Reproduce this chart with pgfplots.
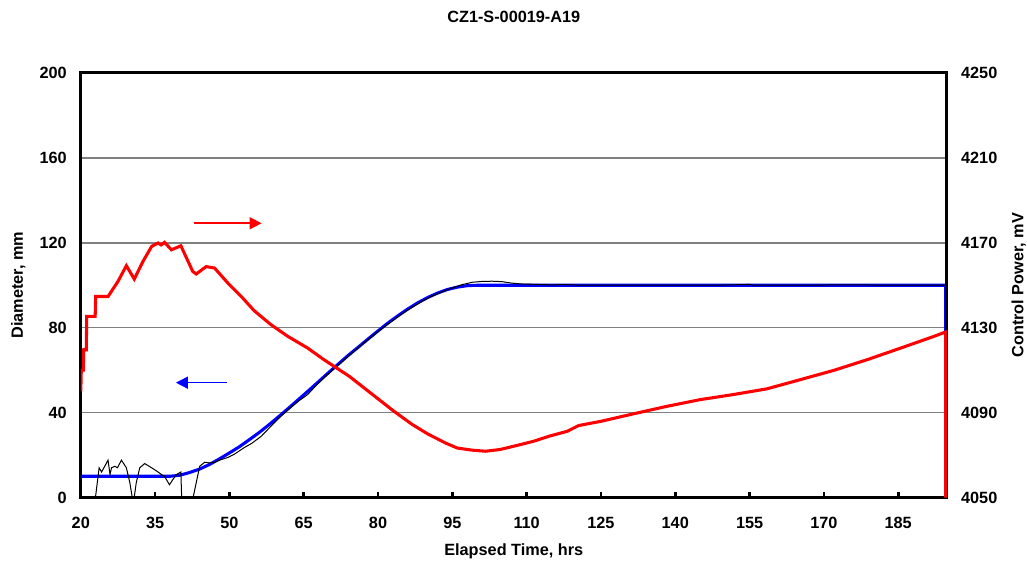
\documentclass[border=0pt]{standalone}
\usepackage{fontspec}
\setmainfont{Liberation Sans}
\usepackage{pgfplots}
\pgfplotsset{compat=1.18}
\usetikzlibrary{arrows.meta}

\definecolor{gridgray}{RGB}{128,128,128}

\pgfplotsset{
  common/.style={
    scale only axis, width=649.5pt, height=318.4pt,
    xmin=20, xmax=194.8,
    font=\fontsize{12.2}{14}\selectfont\bfseries,
    /pgf/number format/assume math mode=true,
    /pgf/number format/1000 sep={},
    axis line style={line width=2.25pt, black},
  },
}

\begin{document}
\begin{tikzpicture}
\useasboundingbox (-60.6pt,-49.9pt) rectangle (709.7pt,373.15pt);

% diameter: setpoint (blue) and measured (black)
\begin{axis}[
  common,
  ymin=0, ymax=200,
  xtick={20,35,...,185}, ytick={0,40,...,200},
  xtick pos=bottom, ytick pos=left,
  tick align=inside,
  major tick length=4pt,
  xtick style={line width=2pt, black},
  ytick style={draw=none},
  ymajorgrids, grid style={gridgray, line width=1.1pt},
  xticklabel style={anchor=center, yshift=-19pt},
  yticklabel style={anchor=east, xshift=-7pt},
  xlabel={Elapsed Time, hrs},
  ylabel={Diameter, mm},
  every axis x label/.style={at={(axis description cs:0.5,0)}, anchor=center, yshift=-40pt},
  every axis y label/.style={at={(axis description cs:0,0.5)}, xshift=-47pt, rotate=90, anchor=center},
  title={CZ1-S-00019-A19},
  every axis title/.style={at={(axis description cs:0.5,1)}, anchor=center, yshift=42pt},
]
\addplot[blue, line width=2.3pt] coordinates {
  (20,10) (38,10) (40,10.5) (42,11.8) (44,13.4) (46,15.6) (48,18.2) (50,21)
  (52,23.9) (54,27.2) (56,30.6) (58,34.3) (60,38.2) (62,42.2) (64,46.3)
  (66,50.4) (68,54.6) (70,58.8) (72,62.9) (74,67) (76,70.8) (78,74.7)
  (80,78.5) (82,82.2) (84,85.6) (86,88.8) (88,91.7) (90,94.2) (92,96.3)
  (94,98) (96,99.1) (98,99.8) (100,100) (194.6,100) (194.6,0)
};
\addplot[black, line width=0.75pt] coordinates {
  (22.8,-3) (23.7,14) (24.2,12) (25.5,17.6) (25.9,10.8) (26.2,14) (26.9,14.7)
  (27.4,14) (28.2,17.6) (29.2,14) (29.9,7) (30.6,-3) (31.2,7) (31.9,14)
  (32.9,16) (34.3,14) (35.3,12.5) (36.3,10.8) (36.9,10) (37.9,6) (38.6,8.5)
  (39.3,10.8) (40.2,12) (40.4,-3) (42.4,-3) (44.0,14.7) (45.0,16.6) (46,16.3)
  (47.0,16.6) (48.0,17.6) (49.6,18.8) (51.0,20.4) (53.0,23.5) (54.5,25.5)
  (56.4,28.8) (59.1,35.3) (60.5,38.5) (62.4,42.4) (64,45.5) (65.8,48.5)
  (67.5,52.8) (69.1,56.5) (71,60.5) (73,64.5) (75,68.6) (77,72.6) (79,76.3)
  (81,80) (83,83.4) (85,86.8) (87,89.8) (89,92.6) (91,95) (93,97) (95,98.8)
  (97,100.3) (99,101.4) (101,101.8) (103,101.9) (105,101.7) (107,101)
  (109,100.6) (112,100.4) (115,100.2) (118,100.3) (121,100) (125,100.1)
  (130,100) (140,100) (150,100.1) (155,100.4) (156,100) (165,100)
  (175,100.2) (185,100) (194.6,100)
};
\draw[red, line width=1.2pt, -{Triangle[length=9pt, width=9pt]}]
  (42.9,129.2) -- (56.5,129.2);
\draw[blue, line width=1.2pt, -{Triangle[length=9pt, width=9pt]}]
  (49.5,54.1) -- (39.2,54.1);
\end{axis}

% control power (red), right axis
\begin{axis}[
  common,
  ymin=4050, ymax=4250,
  axis x line=none, axis y line*=right,
  ytick={4050,4090,...,4250},
  ytick style={draw=none},
  yticklabel style={anchor=west, xshift=7.25pt},
  ylabel={Control Power, mV},
  every axis y label/.style={at={(axis description cs:1,0.5)}, xshift=54pt, rotate=90, anchor=center},
]
\addplot[red, line width=2.3pt] coordinates {
  (20,4100) (20.1,4110) (20.5,4110) (20.6,4119.6) (21.1,4119.6) (21.2,4135.3)
  (22.9,4135.3) (23.0,4144.7) (25.5,4144.7) (27.5,4151.8) (29.2,4159.2)
  (30.8,4152.9) (32.5,4161) (34.3,4168.3) (35.6,4169.9) (36.2,4169)
  (36.9,4170.2) (38.3,4166.7) (40.2,4168.6) (42.6,4156.5) (43.3,4155.3)
  (45.3,4158.8) (47.0,4158.1) (49.7,4151) (52.4,4144.7) (55,4138)
  (58.4,4131.4) (61.8,4125.9) (65.8,4120.4) (69.1,4114.9) (74.2,4107.1)
  (78.9,4098.5) (83,4091) (86.9,4084.4) (90,4080) (93.6,4075.7) (96,4073.3)
  (99.0,4072.3) (101.7,4071.8) (104.6,4072.6) (108,4074.5) (111.4,4076.5)
  (114.7,4079) (118.2,4081.2) (120.5,4083.9) (125,4085.9) (131.7,4089.5)
  (138.4,4093) (145.0,4096.1) (151.7,4098.5) (158.5,4101.2) (165.2,4105.5)
  (172.0,4109.9) (178.7,4114.9) (185.5,4120.4) (192.2,4125.9) (194.6,4128)
  (194.6,4050)
};
\end{axis}
\end{tikzpicture}
\end{document}
